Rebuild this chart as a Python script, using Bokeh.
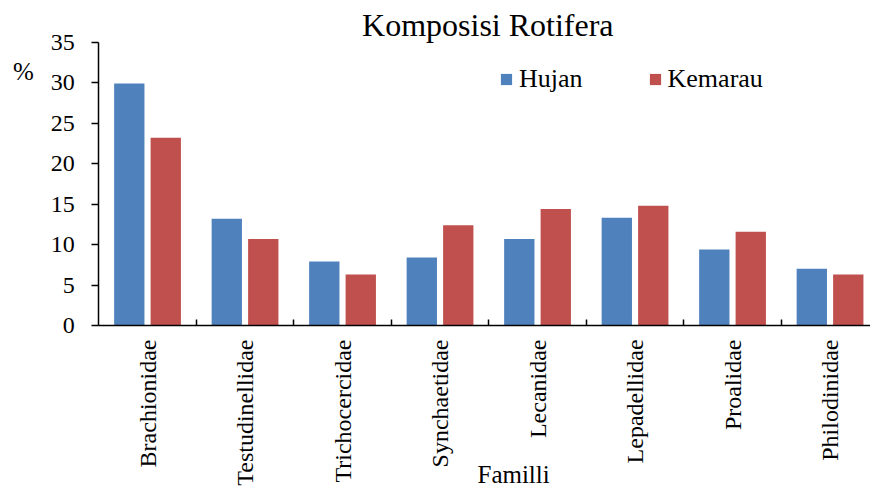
import math
from bokeh.plotting import figure
from bokeh.models import (ColumnDataSource, Range1d, FixedTicker, CustomJSTickFormatter,
                          Legend, LegendItem, Label)
from bokeh.transform import dodge
from bokeh.embed import file_html
from bokeh.resources import INLINE

categories = ["Brachionidae", "Testudinellidae", "Trichocercidae", "Synchaetidae",
              "Lecanidae", "Lepadellidae", "Proalidae", "Philodinidae"]
hujan = [29.9, 13.2, 7.9, 8.4, 10.7, 13.3, 9.4, 7.0]
kemarau = [23.2, 10.7, 6.3, 12.4, 14.4, 14.8, 11.6, 6.3]
series_names = ["Hujan", "Kemarau"]
series_colors = ["#4F81BD", "#C0504D"]
y_ticks = [0, 5, 10, 15, 20, 25, 30, 35]
title_text = "Komposisi Rotifera"
x_title = "Familli"
y_title = "%"

FONT = "Liberation Serif"

pos = [i + 0.5 for i in range(len(categories))]
src = ColumnDataSource(dict(x=pos, hujan=hujan, kemarau=kemarau))

p = figure(width=870, height=490, x_range=Range1d(-1.008, 7.915), y_range=Range1d(-20.40, 40.17),
           output_backend="svg", toolbar_location=None, title_location=None,
           min_border_left=0, min_border_right=0, min_border_top=0, min_border_bottom=0)
p.outline_line_color = None
p.xgrid.visible = False
p.ygrid.visible = False

r1 = p.vbar(x=dodge("x", -0.187), top="hujan", width=0.311, source=src,
            fill_color=series_colors[0], line_color=None)
r2 = p.vbar(x=dodge("x", 0.187), top="kemarau", width=0.311, source=src,
            fill_color=series_colors[1], line_color=None)

xa = p.xaxis[0]
xa.fixed_location = 0
xa.bounds = (0, len(categories))
xa.ticker = FixedTicker(ticks=pos, minor_ticks=list(range(1, len(categories))))
xa.formatter = CustomJSTickFormatter(args=dict(labels=categories),
                                     code="return labels[Math.round(tick - 0.5)];")
xa.major_label_orientation = math.pi / 2
xa.major_tick_out = 0
xa.major_tick_in = 0
xa.minor_tick_in = 6
xa.minor_tick_out = 0
xa.minor_tick_line_color = "black"
xa.minor_tick_line_width = 1.5
xa.major_label_standoff = 14
xa.axis_line_color = "black"
xa.axis_line_width = 1.5
xa.major_label_text_font = FONT
xa.major_label_text_font_size = "24px"
xa.major_label_text_color = "black"

ya = p.yaxis[0]
ya.fixed_location = 0
ya.bounds = (0, 35)
ya.ticker = FixedTicker(ticks=y_ticks)
ya.minor_tick_line_color = None
ya.major_tick_out = 7
ya.major_tick_in = 0
ya.major_tick_line_color = "black"
ya.major_tick_line_width = 1.5
ya.axis_line_color = "black"
ya.axis_line_width = 1.5
ya.major_label_standoff = 17
ya.major_label_text_font = FONT
ya.major_label_text_font_size = "24px"
ya.major_label_text_color = "black"

legend = Legend(items=[LegendItem(label=series_names[0], renderers=[r1]),
                       LegendItem(label=series_names[1], renderers=[r2])],
                orientation="horizontal", location=(499, 396),
                glyph_width=14, glyph_height=14, label_standoff=6, spacing=65,
                padding=0, margin=0, border_line_color=None, background_fill_alpha=0,
                label_text_font=FONT, label_text_font_size="26px", label_text_color="black")
p.add_layout(legend)

p.add_layout(Label(x=3.99, y=37.17, text=title_text, text_align="center",
                   text_baseline="alphabetic", text_font=FONT, text_font_size="32px",
                   text_color="black"))
p.add_layout(Label(x=-0.772, y=31.39, text=y_title, text_align="center",
                   text_baseline="alphabetic", text_font=FONT, text_font_size="25px",
                   text_color="black"))
p.add_layout(Label(x=3.884, y=-18.45, text=x_title, text_align="left",
                   text_baseline="alphabetic", text_font=FONT, text_font_size="25px",
                   text_color="black"))

open("out.html", "w").write(file_html(p, INLINE))
